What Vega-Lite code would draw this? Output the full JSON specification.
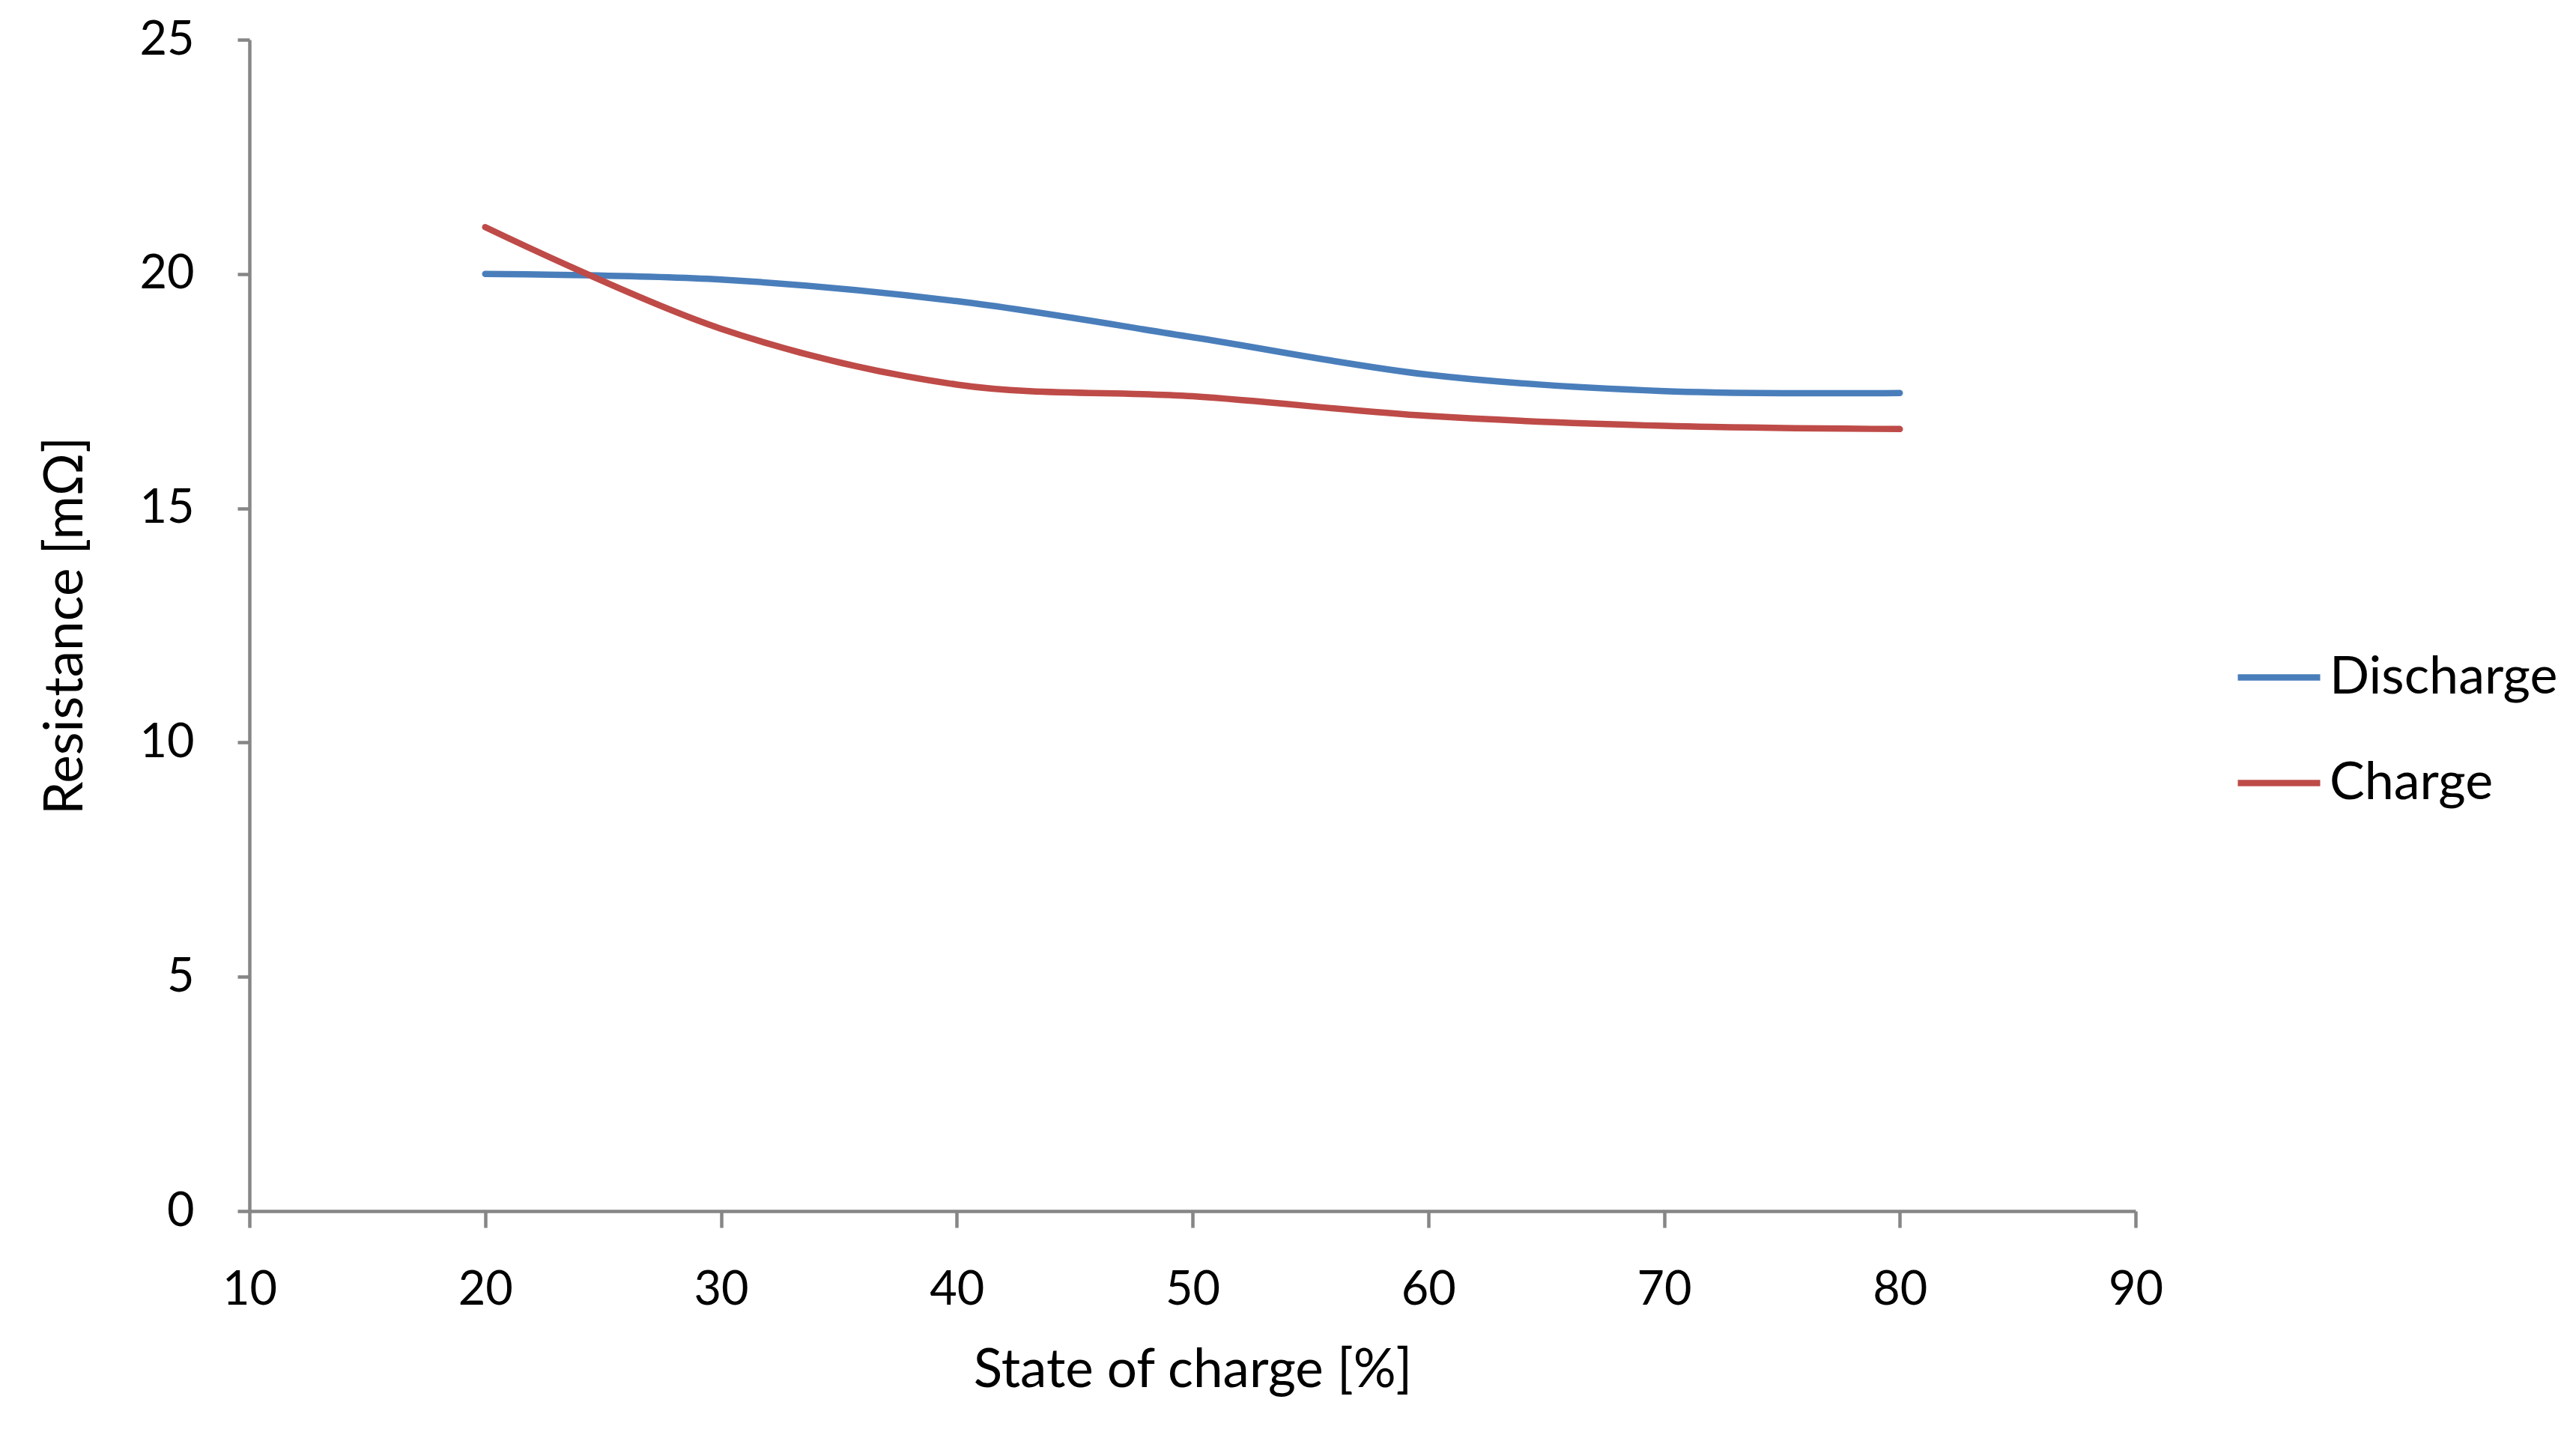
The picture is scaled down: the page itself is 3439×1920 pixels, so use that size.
{
  "$schema": "https://vega.github.io/schema/vega-lite/v6.json",
  "width": 2518,
  "height": 1564,
  "autosize": {"type": "none"},
  "padding": {"left": 333, "top": 53, "right": 588, "bottom": 303},
  "background": "white",
  "config": {"view": {"stroke": null}, "font": "Lato"},
  "data": {
    "values": [
      {"soc": 20, "r": 20.0, "series": "Discharge"},
      {"soc": 30, "r": 19.88, "series": "Discharge"},
      {"soc": 40, "r": 19.42, "series": "Discharge"},
      {"soc": 50, "r": 18.65, "series": "Discharge"},
      {"soc": 60, "r": 17.85, "series": "Discharge"},
      {"soc": 70, "r": 17.5, "series": "Discharge"},
      {"soc": 80, "r": 17.46, "series": "Discharge"},
      {"soc": 20, "r": 21.0, "series": "Charge"},
      {"soc": 30, "r": 18.83, "series": "Charge"},
      {"soc": 40, "r": 17.64, "series": "Charge"},
      {"soc": 50, "r": 17.39, "series": "Charge"},
      {"soc": 60, "r": 16.97, "series": "Charge"},
      {"soc": 70, "r": 16.76, "series": "Charge"},
      {"soc": 80, "r": 16.69, "series": "Charge"}
    ]
  },
  "mark": {"type": "line", "interpolate": "cardinal", "strokeWidth": 8.5, "strokeCap": "round"},
  "encoding": {
    "x": {
      "field": "soc",
      "type": "quantitative",
      "scale": {"domain": [10, 90], "nice": false, "zero": false},
      "axis": {
        "values": [10, 20, 30, 40, 50, 60, 70, 80, 90],
        "grid": false,
        "domainColor": "#868686",
        "domainWidth": 4.5,
        "tickColor": "#868686",
        "tickWidth": 4.5,
        "tickSize": 22,
        "labelFontSize": 63,
        "labelColor": "black",
        "labelPadding": 52,
        "labelFlush": false,
        "labelOverlap": false,
        "labelFont": "Lato",
        "title": "State of charge [%]",
        "titleFontSize": 71,
        "titleFontWeight": "normal",
        "titleColor": "black",
        "titleFont": "Lato",
        "titleY": 213,
        "titleBaseline": "middle"
      }
    },
    "y": {
      "field": "r",
      "type": "quantitative",
      "scale": {"domain": [0, 25], "nice": false},
      "axis": {
        "values": [0, 5, 10, 15, 20, 25],
        "grid": false,
        "domainColor": "#868686",
        "domainWidth": 4.5,
        "tickColor": "#868686",
        "tickWidth": 4.5,
        "tickSize": 16,
        "labelFontSize": 63,
        "labelColor": "black",
        "labelPadding": 58,
        "labelDy": 7,
        "labelFlush": false,
        "labelOverlap": false,
        "labelFont": "Lato",
        "title": "Resistance [mΩ]",
        "titleFontSize": 71,
        "titleFontWeight": "normal",
        "titleColor": "black",
        "titleFont": "Lato",
        "titleX": -245,
        "titleY": 782,
        "titleAngle": -90,
        "titleBaseline": "middle",
        "titleAlign": "center"
      }
    },
    "color": {
      "field": "series",
      "type": "nominal",
      "scale": {"domain": ["Discharge", "Charge"], "range": ["#4A7EBB", "#BE4B48"]},
      "legend": {
        "orient": "none",
        "legendX": 2650,
        "legendY": 792,
        "direction": "vertical",
        "title": null,
        "padding": 0,
        "symbolType": "stroke",
        "symbolSize": 12100,
        "symbolStrokeWidth": 8.5,
        "labelFontSize": 70,
        "labelFont": "Lato",
        "labelColor": "black",
        "labelLimit": 0,
        "labelOffset": 8,
        "rowPadding": 46
      }
    }
  }
}
